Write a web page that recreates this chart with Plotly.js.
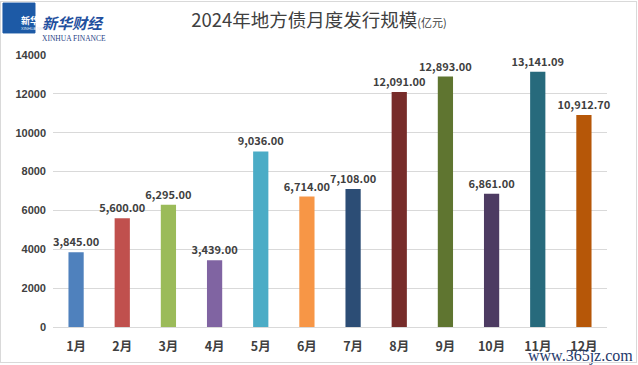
<!DOCTYPE html>
<html><head><meta charset="utf-8">
<script src="https://cdn.plot.ly/plotly-3.0.1.min.js"></script>
<style>
body{margin:0;padding:0;background:#fff;}
#wrap{position:relative;width:638px;height:365px;}
#chart{width:638px;height:365px;}
#border{position:absolute;left:0;top:1px;width:635px;height:360px;border:1px solid #d9d9d9;pointer-events:none;}
</style>
</head><body>
<div id="wrap"><div id="chart"></div><div id="border"></div></div>
<script>
const months = ['1月','2月','3月','4月','5月','6月','7月','8月','9月','10月','11月','12月'];
const issuance = [3845.00, 5600.00, 6295.00, 3439.00, 9036.00, 6714.00, 7108.00, 12091.00, 12893.00, 6861.00, 13141.09, 10912.70];
const barColors = ['#4F81BD','#C0504D','#9BBB59','#8064A2','#4BACC6','#F79646','#2C4D75','#772C2A','#5F7530','#4D3B62','#276A7C','#B65708'];
const yTicks = [0,2000,4000,6000,8000,10000,12000,14000];

const trace = {
  type:'bar', x: months, y: issuance,
  marker:{color: barColors},
  width: 0.33,
  texttemplate:'%{y:,.2f}', textposition:'outside', cliponaxis:false, constraintext:'none', textangle:0,
  textfont:{family:'Noto Sans CJK SC, sans-serif', size:11, color:'#404040', weight:'bold'},
  hoverinfo:'none'
};

const layout = {
  width:638, height:365,
  margin:{l:53, r:31, t:55, b:38},
  paper_bgcolor:'#fff', plot_bgcolor:'#fff',
  showlegend:false,
  title:{text:'2024年地方债月度发行规模<span style="font-size:11px">(亿元)</span>', x:0.5, xanchor:'center', y:0.945, yanchor:'middle',
    font:{family:'Noto Sans CJK SC, sans-serif', size:18.5, color:'#404040'}},
  xaxis:{type:'category', showgrid:false, showline:true, linecolor:'#d9d9d9', linewidth:1, ticks:'', ticklabelstandoff:8,
    tickfont:{family:'Noto Sans CJK SC, sans-serif', size:12.5, color:'#404040', weight:'bold'}, zeroline:false},
  yaxis:{range:[0,14000], tickvals:yTicks, ticktext:yTicks.map(String), showgrid:true, gridcolor:'#d9d9d9', gridwidth:1,
    zeroline:false, showline:false, ticks:'', ticklabelstandoff:6,
    tickfont:{family:'Liberation Sans, Arial, sans-serif', size:11, color:'#404040', weight:'bold'}},
  shapes:[
    {type:'rect', xref:'paper', yref:'paper', x0:-0.0903, x1:-0.0325, y0:1.081, y1:1.191, fillcolor:'#1d5aa6', line:{color:'#1d5aa6', width:1}, layer:'above'}
  ],
  annotations:[
    {text:'新华社', xref:'paper', yref:'paper', x:-0.0614, y:1.158, showarrow:false, font:{family:'Noto Sans CJK SC', size:9, color:'#fff', weight:'bold'}},
    {text:'XINHUA NEWS', xref:'paper', yref:'paper', x:-0.0614, y:1.115, showarrow:false, font:{family:'Liberation Sans', size:4, color:'#dfe8f5'}},
    {text:'<i>新华财经</i>', xref:'paper', yref:'paper', x:-0.0235, xanchor:'left', y:1.165, showarrow:false, font:{family:'Noto Sans CJK SC', size:15, color:'#1f4f9e', weight:'bold'}},
    {text:'XINHUA FINANCE', xref:'paper', yref:'paper', x:-0.0235, xanchor:'left', y:1.083, showarrow:false, font:{family:'Liberation Serif', size:7.5, color:'#1f3f86'}},
    {text:'www.365jz.com', xref:'paper', yref:'paper', x:1.05, xanchor:'right', y:-0.065, yanchor:'top', showarrow:false, font:{family:'Liberation Serif, serif', size:16, color:'#1f3a6b'}}
  ]
};
Plotly.newPlot('chart',[trace],layout,{displayModeBar:false, staticPlot:true});
</script>
</body></html>
